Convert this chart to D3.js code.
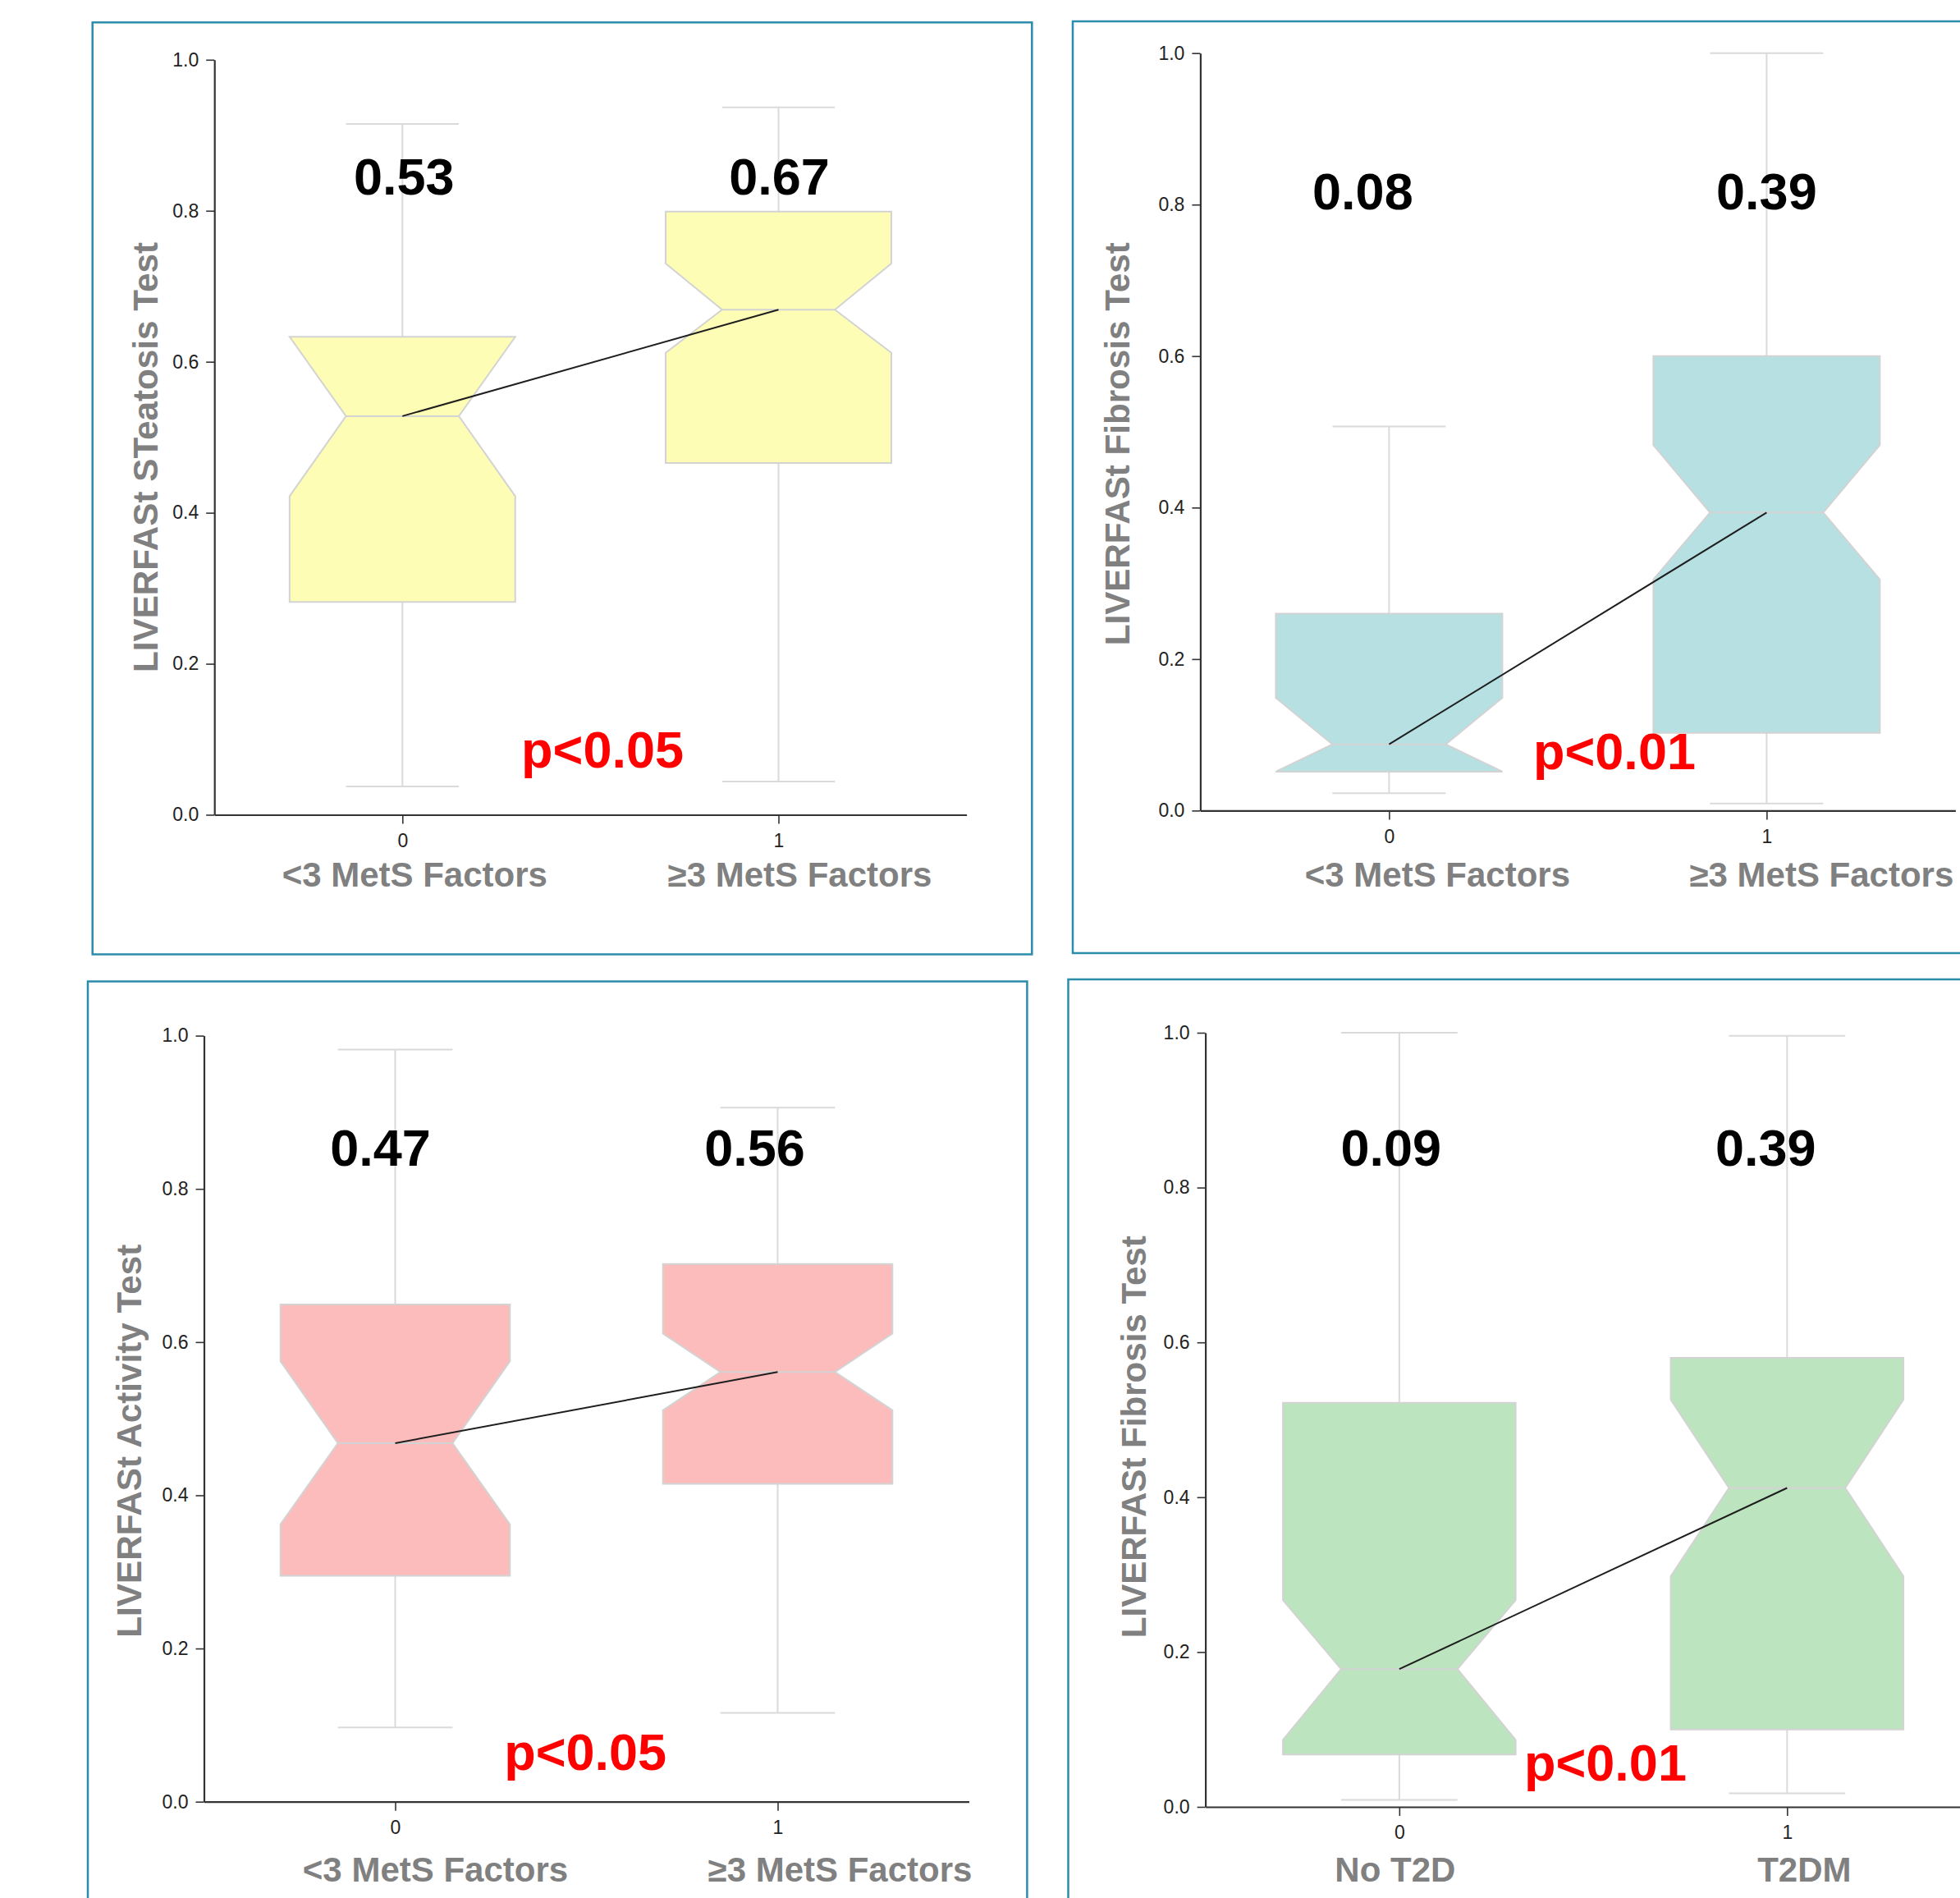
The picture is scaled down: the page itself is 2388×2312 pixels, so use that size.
<!DOCTYPE html>
<html>
<head>
<meta charset="utf-8">
<script src="https://cdn.jsdelivr.net/npm/d3@7"></script>
<style>
  body { margin: 0; background: #fff; }
  svg { display: block; }
  text { font-family: "Liberation Sans", Arial, Helvetica, sans-serif; }
</style>
</head>
<body>
<svg id="chart" width="2388" height="2312"></svg>
<script>
// ---------------- DATA ----------------
const groups = ["0", "1"];
const xLabelsMetS = ["<3 MetS Factors", "\u22653 MetS Factors"];
const xLabelsT2D = ["No T2D", "T2DM"];
const yTicks = [0, 0.2, 0.4, 0.6, 0.8, 1.0];

// [whiskerLow, q1, notchLow, median, notchHigh, q3, whiskerHigh]
const steatosisBox    = [[0.0375, 0.282, 0.422, 0.528, 0.633, 0.633, 0.915],
                         [0.044, 0.466, 0.612, 0.669, 0.730, 0.799, 0.937]];
const fibrosisMetSBox = [[0.023, 0.0514, 0.0514, 0.0875, 0.149, 0.260, 0.507],
                         [0.0095, 0.1025, 0.305, 0.3935, 0.4825, 0.600, 1.0]];
const activityBox     = [[0.097, 0.295, 0.362, 0.468, 0.575, 0.649, 0.982],
                         [0.116, 0.415, 0.511, 0.561, 0.611, 0.702, 0.906]];
const fibrosisT2DBox  = [[0.009, 0.0675, 0.0865, 0.178, 0.267, 0.522, 1.0],
                         [0.0175, 0.100, 0.298, 0.412, 0.526, 0.580, 0.996]];

const steatosisMedianText    = ["0.53", "0.67"];
const fibrosisMetSMedianText = ["0.08", "0.39"];
const activityMedianText     = ["0.47", "0.56"];
const fibrosisT2DMedianText  = ["0.09", "0.39"];

const pValueTexts = ["p<0.05", "p<0.01", "p<0.05", "p<0.01"];
const yTitles = ["LIVERFASt STeatosis Test", "LIVERFASt Fibrosis Test",
                 "LIVERFASt Activity Test", "LIVERFASt Fibrosis Test"];

// ---------------- LAYOUT ----------------
const panels = [
  { stats: steatosisBox, medText: steatosisMedianText, xLabels: xLabelsMetS, pText: pValueTexts[0], title: yTitles[0],
    fill: "#fdfdb5",
    border: [112.7, 27.3, 1257.3, 1162.5],
    x0: 261.2, step: 458.2, y0: 992.5, y1: 72.8,
    medDx: [2, 1], medV: 0.822, pU: 1.032, pV: 0.063,
    labDx: [15, 26], labDy: 87.3,
    titleX: 161.2, titleV: 0.4735, titleLen: 524 },
  { stats: fibrosisMetSBox, medText: fibrosisMetSMedianText, xLabels: xLabelsMetS, pText: pValueTexts[1], title: yTitles[1],
    fill: "#b6e0e2",
    border: [1307, 26, 2440, 1161],
    x0: 1462.4, step: 460, y0: 987.4, y1: 64.7,
    medDx: [-32, 0], medV: 0.794, pU: 1.097, pV: 0.0548,
    labDx: [59, 67], labDy: 92.4,
    titleX: 1345.1, titleV: 0.484, titleLen: 491 },
  { stats: activityBox, medText: activityMedianText, xLabels: xLabelsMetS, pText: pValueTexts[2], title: yTitles[2],
    fill: "#fcbcbc",
    border: [107, 1195.5, 1251.4, 2360],
    x0: 248.5, step: 466, y0: 2194.7, y1: 1261.6,
    medDx: [-18, -28], medV: 0.830, pU: 0.997, pV: 0.0415,
    labDx: [49, 76], labDy: 97,
    titleX: 141, titleV: 0.471, titleLen: 479 },
  { stats: fibrosisT2DBox, medText: fibrosisT2DMedianText, xLabels: xLabelsT2D, pText: pValueTexts[3], title: yTitles[3],
    fill: "#bce4be",
    border: [1301.5, 1193, 2440, 2360],
    x0: 1468.6, step: 472.5, y0: 2201, y1: 1258,
    medDx: [-10, -26], medV: 0.828, pU: 1.0315, pV: 0.034,
    labDx: [-5, 21], labDy: 90.7,
    titleX: 1365.9, titleV: 0.478, titleLen: 490 }
];

const svg = d3.select("#chart");
svg.append("rect").attr("width", 2388).attr("height", 2312).attr("fill", "#fff");

const FONT = '"Liberation Sans", Arial, Helvetica, sans-serif';
const boxStroke = "#d3d3d3";
const whiskerColor = "#dadada";

function drawPanel(p) {
  const g = svg.append("g");
  const [bx0, by0, bx1, by1] = p.border;
  g.append("rect")
    .attr("x", bx0).attr("y", by0)
    .attr("width", bx1 - bx0).attr("height", by1 - by0)
    .attr("fill", "none").attr("stroke", "#2b8cab").attr("stroke-width", 2.5);

  const x = d3.scalePoint().domain(groups).range([p.x0, p.x0 + 2 * p.step]).padding(0.5);
  const y = d3.scaleLinear().domain([0, 1]).range([p.y0, p.y1]);

  const half = x.step() * 0.3;
  const notchHalf = half / 2;
  const capHalf = half / 2;

  const rows = p.stats.map((s, i) => ({
    g: groups[i], wlo: s[0], q1: s[1], nlo: s[2], med: s[3], nhi: s[4], q3: s[5], whi: s[6]
  }));

  // whiskers
  rows.forEach(r => {
    const cx = x(r.g);
    g.append("line").attr("x1", cx).attr("x2", cx).attr("y1", y(r.wlo)).attr("y2", y(r.q1))
      .attr("stroke", whiskerColor).attr("stroke-width", 2);
    g.append("line").attr("x1", cx).attr("x2", cx).attr("y1", y(r.q3)).attr("y2", y(r.whi))
      .attr("stroke", whiskerColor).attr("stroke-width", 2);
    g.append("line").attr("x1", cx - capHalf).attr("x2", cx + capHalf).attr("y1", y(r.wlo)).attr("y2", y(r.wlo))
      .attr("stroke", whiskerColor).attr("stroke-width", 2);
    g.append("line").attr("x1", cx - capHalf).attr("x2", cx + capHalf).attr("y1", y(r.whi)).attr("y2", y(r.whi))
      .attr("stroke", whiskerColor).attr("stroke-width", 2);
  });

  // notched boxes
  const poly = d3.line();
  rows.forEach(r => {
    const cx = x(r.g), L = cx - half, R = cx + half;
    const pts = [
      [L, y(r.q1)], [R, y(r.q1)], [R, y(r.nlo)], [cx + notchHalf, y(r.med)],
      [R, y(r.nhi)], [R, y(r.q3)], [L, y(r.q3)], [L, y(r.nhi)],
      [cx - notchHalf, y(r.med)], [L, y(r.nlo)]
    ];
    g.append("path").attr("d", poly(pts) + "Z")
      .attr("fill", p.fill).attr("stroke", boxStroke).attr("stroke-width", 2)
      .attr("stroke-linejoin", "miter");
    g.append("line")
      .attr("x1", cx - notchHalf).attr("x2", cx + notchHalf)
      .attr("y1", y(r.med)).attr("y2", y(r.med))
      .attr("stroke", boxStroke).attr("stroke-width", 2);
  });

  // connecting line between medians
  g.append("path")
    .attr("d", d3.line().x(r => x(r.g)).y(r => y(r.med))(rows))
    .attr("fill", "none").attr("stroke", "#1e1e1e").attr("stroke-width", 2);

  // axes
  const xAxis = d3.axisBottom(x).tickSize(11).tickPadding(12).tickSizeOuter(0);
  const yAxis = d3.axisLeft(y).tickValues(yTicks).tickFormat(d3.format(".1f"))
    .tickSize(10).tickPadding(9).tickSizeOuter(0);

  const gx = g.append("g").attr("transform", `translate(0,${p.y0})`).call(xAxis);
  const gy = g.append("g").attr("transform", `translate(${p.x0},0)`).call(yAxis);
  [gx, gy].forEach(a => {
    a.attr("font-family", FONT).attr("font-size", 23);
    a.select(".domain").attr("stroke", "#333").attr("stroke-width", 2.2);
    a.selectAll(".tick line").attr("stroke", "#333").attr("stroke-width", 1.6);
    a.selectAll(".tick text").attr("fill", "#222");
  });

  // category labels
  rows.forEach((r, i) => {
    g.append("text")
      .attr("x", x(r.g) + p.labDx[i]).attr("y", p.y0 + p.labDy)
      .attr("text-anchor", "middle")
      .attr("font-size", 42).attr("font-weight", "bold").attr("fill", "#808080")
      .text(p.xLabels[i]);
  });

  // y title
  g.append("text")
    .attr("transform", `translate(${p.titleX + 30.5},${y(p.titleV)}) rotate(-90)`)
    .attr("text-anchor", "middle")
    .attr("font-size", 42).attr("font-weight", "bold").attr("fill", "#808080")
    .attr("textLength", p.titleLen).attr("lengthAdjust", "spacingAndGlyphs")
    .text(p.title);

  // median value labels
  rows.forEach((r, i) => {
    g.append("text")
      .attr("x", x(r.g) + p.medDx[i]).attr("y", y(p.medV))
      .attr("text-anchor", "middle")
      .attr("font-size", 63).attr("font-weight", "bold").attr("fill", "#000")
      .text(p.medText[i]);
  });

  // p-value
  g.append("text")
    .attr("x", p.x0 + p.pU * x.step()).attr("y", y(p.pV))
    .attr("text-anchor", "middle")
    .attr("font-size", 63).attr("font-weight", "bold").attr("fill", "#ff0000")
    .text(p.pText);
}

panels.forEach(drawPanel);
</script>
</body>
</html>
